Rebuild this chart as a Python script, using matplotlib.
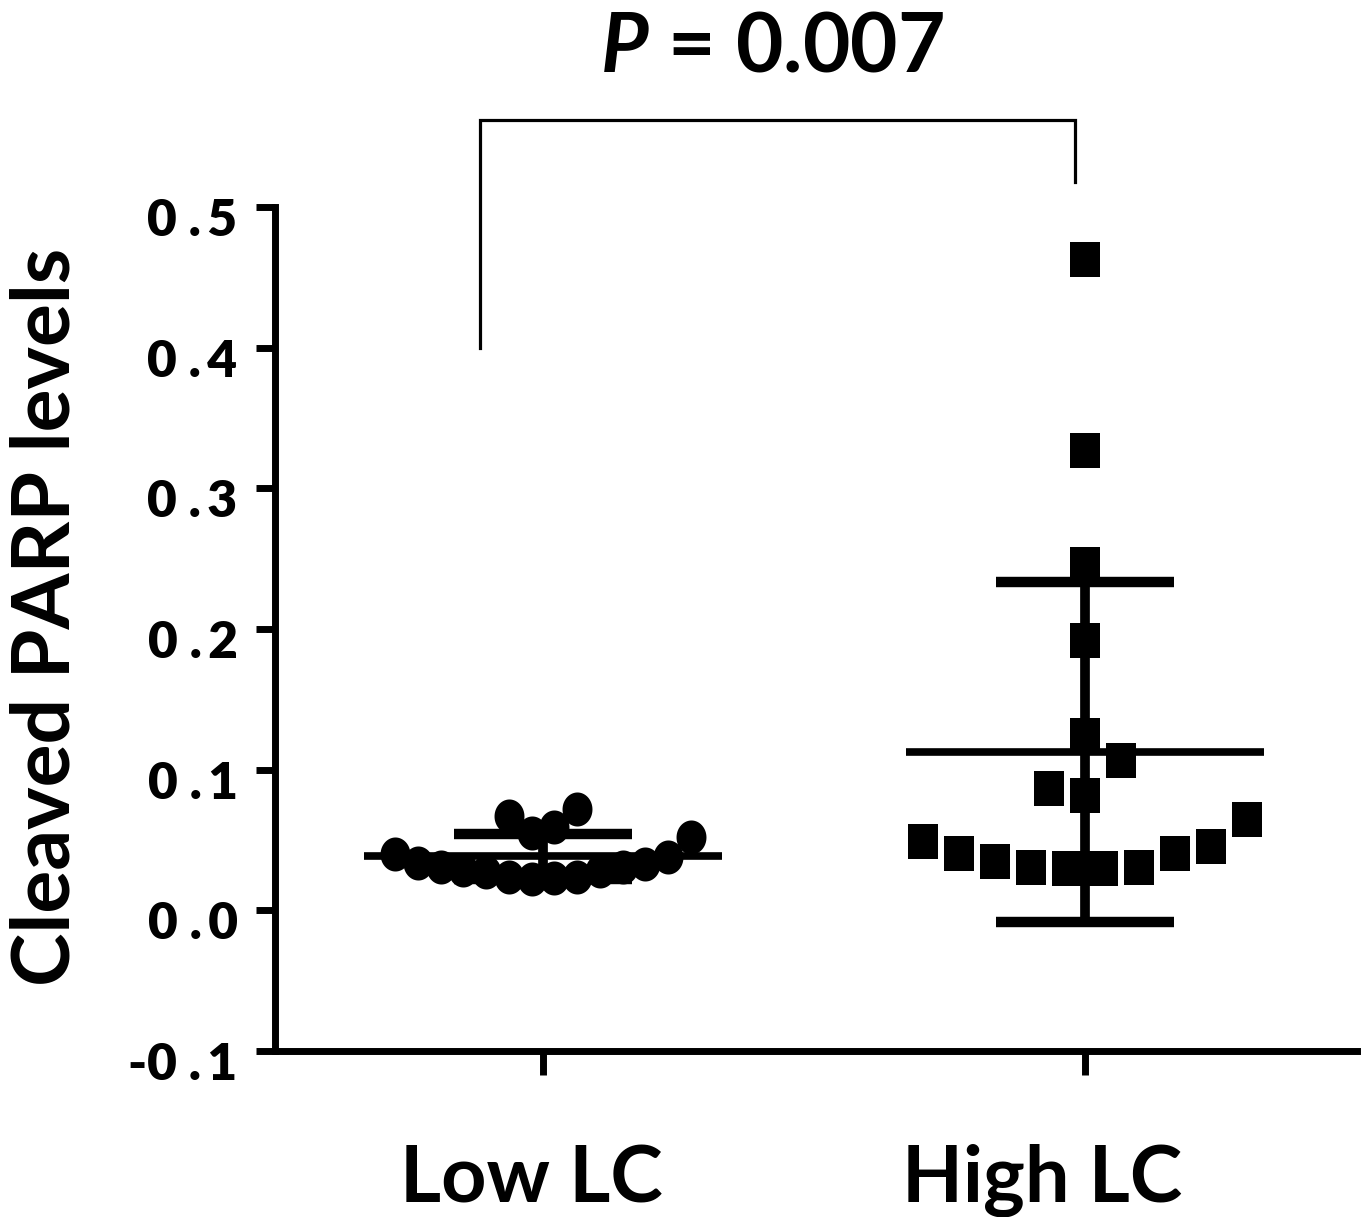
import numpy as np
import matplotlib
matplotlib.use('Agg')
import matplotlib.pyplot as plt
from matplotlib.transforms import ScaledTranslation

groups = ['Low LC', 'High LC']
low_lc = [0.040, 0.034, 0.031, 0.029, 0.027, 0.072, 0.024, 0.055, 0.022,
          0.023, 0.059, 0.024, 0.067, 0.028, 0.031, 0.033, 0.038, 0.052]
high_lc = [0.049, 0.041, 0.035, 0.031, 0.030, 0.030, 0.031, 0.041, 0.046,
           0.065, 0.087, 0.082, 0.107, 0.125, 0.192, 0.246, 0.327, 0.463]
y_ticks = [-0.1, 0.0, 0.1, 0.2, 0.3, 0.4, 0.5]
y_tick_labels = ['-0 .\u20091', '0 .\u20090', '0 .\u20091', '0 .\u20092',
                 '0 .\u20093', '0 .\u20094', '0 .\u20095']
y_label = 'Cleaved PARP levels'
p_label = r'$\mathit{P}$ = 0.007'
bracket_left_bottom = 0.4
bracket_right_bottom = 0.518
bracket_top = 0.562

plt.rcParams['font.family'] = ['Lato', 'DejaVu Sans']
plt.rcParams['font.weight'] = 'bold'
plt.rcParams['mathtext.fontset'] = 'custom'
plt.rcParams['mathtext.it'] = 'Lato:italic:bold'
plt.rcParams['mathtext.rm'] = 'Lato:bold'


def swarm(values, center, step, row_height):
    # prism-like layout: bin by value, spread each row from the centre out
    vals = np.asarray(values, dtype=float)
    rows = np.floor((vals - vals.min()) / row_height).astype(int)
    xs = np.zeros(len(vals))
    for r in np.unique(rows):
        idx = np.where(rows == r)[0]
        idx = idx[np.argsort(vals[idx], kind='stable')]
        slots = np.arange(len(idx)) - (len(idx) - 1) / 2
        order = sorted(slots, key=lambda s: (abs(s), s))
        for i, s in zip(idx, order):
            xs[i] = center + s * step
    return xs


def ellipse_marker(aspect):
    t = np.linspace(0, 2 * np.pi, 64)
    return list(zip(aspect * np.cos(t), np.sin(t)))


def rect_marker(aspect):
    return [(-aspect, -1), (aspect, -1), (aspect, 1), (-aspect, 1), (-aspect, -1)]


fig = plt.figure(figsize=(13.63, 12.17), dpi=100)
ax = fig.add_axes([0.2018, 0.1364, 0.7938, 0.6935])

settings = [
    dict(step=0.042, row=0.032, marker=ellipse_marker(0.88), ms=24.5),
    dict(step=0.0664, row=0.04, marker=rect_marker(0.83), ms=25.2),
]

for c, (vals, st) in enumerate(zip([low_lc, high_lc], settings)):
    m = np.mean(vals)
    sd = np.std(vals, ddof=1)
    ax.hlines(m, c - 0.33, c + 0.33, color='black', lw=5.5, zorder=2)
    ax.vlines(c, m - sd, m + sd, color='black', lw=7, zorder=2)
    ax.hlines([m - sd, m + sd], c - 0.164, c + 0.164, color='black', lw=7.5, zorder=2)
    xs = swarm(vals, c, st['step'], st['row'])
    ax.plot(xs, vals, ls='none', marker=st['marker'], ms=st['ms'],
            color='black', mec='black', mew=0, zorder=3, clip_on=False)

ax.set_xlim(-0.4945, 1.502)
ax.set_ylim(-0.1, 0.5)

for side in ['top', 'right']:
    ax.spines[side].set_visible(False)
for side in ['left', 'bottom']:
    ax.spines[side].set_linewidth(5)

ax.set_yticks(y_ticks)
ax.set_yticklabels(y_tick_labels, fontsize=37, fontweight='heavy')
ax.tick_params(axis='y', length=14, width=5, pad=13)
for lab in ax.get_yticklabels():
    lab.set_transform(lab.get_transform() + ScaledTranslation(0, -0.1, fig.dpi_scale_trans))

ax.set_xticks([0, 1])
ax.set_xticklabels(groups, fontsize=57, fontweight='bold')
ax.tick_params(axis='x', length=17, width=5, pad=50)
for lab, dx in zip(ax.get_xticklabels(), [-0.12, -0.43]):
    lab.set_transform(lab.get_transform() + ScaledTranslation(dx, 0, fig.dpi_scale_trans))

fig.text(47 / 1363, 1 - 617 / 1217, y_label, rotation=90, ha='center', va='center',
         fontsize=58, fontweight='bold')

# significance bracket
ax.plot([-0.116, -0.116, 0.982, 0.982],
        [bracket_left_bottom, bracket_top, bracket_top, bracket_right_bottom],
        color='black', lw=2.3, clip_on=False, solid_joinstyle='miter')
ax.text(0.4225, 0.5963, p_label, ha='center', va='baseline', fontsize=59,
        fontweight='bold', clip_on=False)

fig.savefig('out.png', dpi=100, facecolor='white')
